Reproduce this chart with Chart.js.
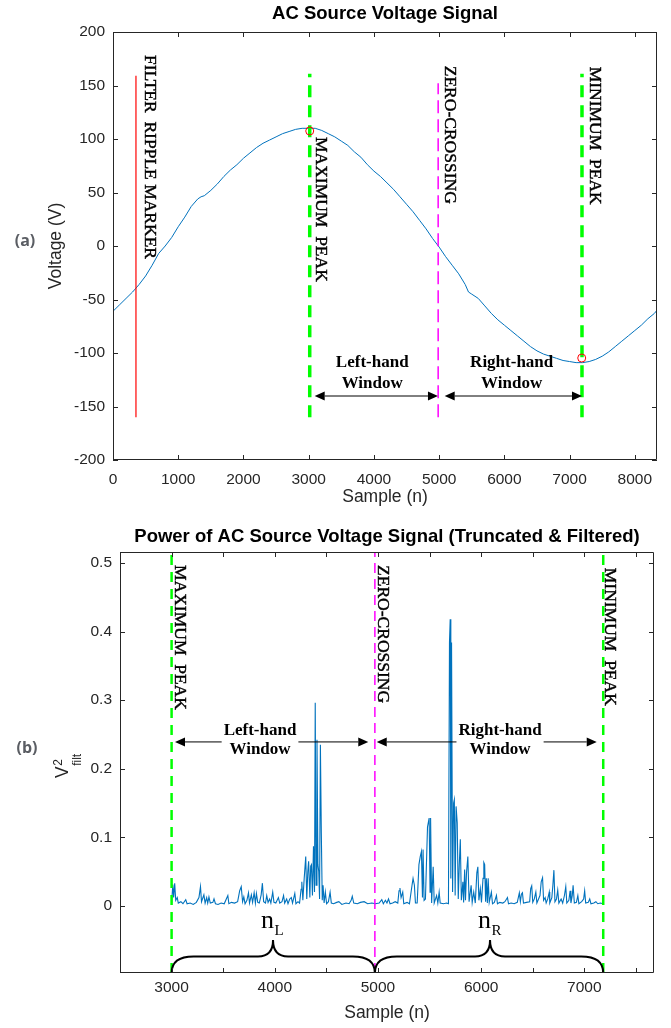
<!DOCTYPE html>
<html>
<head>
<meta charset="utf-8">
<script src="https://cdn.jsdelivr.net/npm/chart.js@4.4.1/dist/chart.umd.min.js"></script>
<style>
  html, body { margin: 0; padding: 0; background: #fff; }
  #voltageChart { position: absolute; left: 0; top: 0; }
  #powerChart { position: absolute; left: 0; top: 515px; }
</style>
</head>
<body>
<canvas id="voltageChart" width="671" height="515"></canvas>
<canvas id="powerChart" width="671" height="513"></canvas>
<script>
// ---- (a) AC source voltage ----
const voltageSample = [
  0, 100, 200, 300, 400, 500, 600, 700, 800, 900, 1000, 1100, 1200, 1300, 1350, 1400,
  1500, 1600, 1700, 1800, 1900, 2000, 2100, 2200, 2300, 2400, 2500, 2600, 2700, 2800,
  2900, 3000, 3100, 3200, 3300, 3400, 3500, 3600, 3700, 3800, 3900, 4000, 4100, 4200,
  4300, 4400, 4500, 4600, 4700, 4800, 4900, 5000, 5100, 5200, 5300, 5400, 5450, 5500,
  5600, 5700, 5800, 5900, 6000, 6100, 6200, 6300, 6400, 6500, 6600, 6700, 6800, 6900,
  7000, 7100, 7200, 7300, 7400, 7500, 7600, 7700, 7800, 7900, 8000, 8100, 8200, 8300, 8340,
];
const voltageValue = [
  -61, -55, -49, -43, -36, -28, -18, -7, 0, 8, 18, 27, 37, 44, 46, 47,
  52, 58, 65, 71, 76, 82, 87, 92, 96, 99, 102, 105, 107, 109,
  110, 110, 110, 108, 105, 102, 98, 94, 88, 83, 76, 70, 65, 59,
  53, 46, 39, 32, 24, 16, 7, -1, -10, -18, -26, -36, -43, -45,
  -49, -56, -63, -69, -74, -79, -84, -89, -94, -98, -101, -103, -105, -107,
  -108, -109, -109, -108, -106, -103, -99, -94, -89, -84, -79, -74, -68, -63, -60,
];
const voltageXTicks = [0, 1000, 2000, 3000, 4000, 5000, 6000, 7000, 8000];
const voltageYTicks = [-200, -150, -100, -50, 0, 50, 100, 150, 200];
const voltageMarkerSample = [352, 3016, 4985, 7190];
const voltageMarkerLow = [-160, -160, -160, -160];
const voltageMarkerHigh = [159, 161, 152, 161];
const voltagePeakSample = [3016, 7186];
const voltagePeakValue = [107.5, -104.7];
const voltageMarkerLabels = ["FILTER  RIPPLE MARKER", "MAXIMUM  PEAK", "ZERO-CROSSING", "MINIMUM  PEAK"];

// ---- (b) power of the signal ----
const powerSample = [
  3000, 3012, 3020, 3030, 3040, 3055, 3065, 3090, 3110, 3137, 3150, 3180, 3210, 3240, 3265, 3280,
  3290, 3313, 3325, 3340, 3350, 3362, 3375, 3400, 3411, 3425, 3450, 3480, 3510, 3545, 3555, 3580,
  3610, 3640, 3660, 3675, 3688, 3700, 3712, 3730, 3745, 3755, 3773, 3785, 3800, 3812, 3822, 3835,
  3850, 3868, 3880, 3892, 3910, 3922, 3935, 3950, 3962, 3980, 3992, 4010, 4035, 4048, 4070, 4085,
  4096, 4115, 4128, 4145, 4160, 4172, 4194, 4205, 4225, 4240, 4255, 4262, 4272, 4285, 4300, 4310,
  4320, 4328, 4340, 4348, 4355, 4365, 4375, 4385, 4392, 4400, 4409, 4418, 4426, 4434, 4442, 4451,
  4460, 4468, 4478, 4490, 4502, 4520, 4536, 4548, 4570, 4600, 4621, 4650, 4690, 4720, 4740, 4751,
  4765, 4800, 4830, 4866, 4900, 4940, 4975, 5012, 5037, 5052, 5072, 5087, 5102, 5117, 5142, 5167,
  5192, 5204, 5213, 5224, 5240, 5250, 5282, 5305, 5330, 5340, 5353, 5363, 5380, 5397, 5410, 5421,
  5431, 5437, 5447, 5460, 5480, 5490, 5496, 5505, 5510, 5520, 5535, 5545, 5568, 5580, 5593, 5603,
  5635, 5665, 5683, 5693, 5700, 5706, 5713, 5723, 5733, 5740, 5748, 5757, 5768, 5778, 5788, 5798,
  5808, 5823, 5830, 5840, 5848, 5858, 5871, 5883, 5903, 5913, 5928, 5943, 5958, 5968, 5978, 5992,
  6003, 6018, 6026, 6034, 6043, 6050, 6060, 6068, 6078, 6099, 6110, 6128, 6148, 6158, 6180, 6210,
  6230, 6255, 6265, 6290, 6320, 6350, 6370, 6380, 6390, 6400, 6410, 6440, 6470, 6480, 6490, 6500,
  6515, 6530, 6540, 6570, 6582, 6595, 6605, 6620, 6630, 6645, 6660, 6665, 6685, 6695, 6705, 6715,
  6730, 6742, 6753, 6775, 6790, 6807, 6820, 6830, 6850, 6862, 6870, 6883, 6891, 6903, 6923, 6937,
  6947, 6974, 6993, 7003, 7013, 7038, 7052, 7064, 7092, 7112, 7130, 7155, 7180,
];
const powerValue = [
  0.004, 0.031, 0.012, 0.033, 0.008, 0.012, 0.004, 0.006, 0.003, 0.009, 0.003, 0.004, 0.002, 0.005, 0.012, 0.028,
  0.006, 0.016, 0.004, 0.012, 0.004, 0.013, 0.004, 0.005, 0.010, 0.003, 0.002, 0.004, 0.003, 0.015, 0.003, 0.005,
  0.004, 0.006, 0.022, 0.028, 0.006, 0.013, 0.003, 0.008, 0.019, 0.004, 0.016, 0.005, 0.019, 0.004, 0.018, 0.005,
  0.004, 0.016, 0.033, 0.006, 0.004, 0.015, 0.005, 0.010, 0.004, 0.020, 0.005, 0.004, 0.012, 0.004, 0.006, 0.015,
  0.004, 0.010, 0.003, 0.010, 0.012, 0.004, 0.018, 0.003, 0.006, 0.004, 0.024, 0.035, 0.008, 0.040, 0.072, 0.010,
  0.050, 0.065, 0.012, 0.058, 0.060, 0.015, 0.087, 0.020, 0.296, 0.030, 0.242, 0.060, 0.050, 0.010, 0.235, 0.106,
  0.008, 0.030, 0.004, 0.020, 0.003, 0.006, 0.020, 0.004, 0.003, 0.005, 0.006, 0.002, 0.004, 0.003, 0.008, 0.014,
  0.004, 0.003, 0.005, 0.006, 0.003, 0.004, 0.003, 0.004, 0.009, 0.003, 0.008, 0.004, 0.010, 0.003, 0.004, 0.006,
  0.004, 0.022, 0.026, 0.012, 0.020, 0.003, 0.005, 0.003, 0.030, 0.040, 0.030, 0.004, 0.004, 0.060, 0.072, 0.079,
  0.012, 0.082, 0.008, 0.010, 0.115, 0.123, 0.128, 0.020, 0.128, 0.004, 0.057, 0.004, 0.015, 0.004, 0.020, 0.004,
  0.003, 0.004, 0.003, 0.384, 0.418, 0.040, 0.384, 0.020, 0.150, 0.155, 0.015, 0.145, 0.121, 0.010, 0.060, 0.097,
  0.008, 0.035, 0.005, 0.053, 0.008, 0.048, 0.072, 0.006, 0.030, 0.005, 0.020, 0.004, 0.048, 0.057, 0.008, 0.025,
  0.005, 0.040, 0.063, 0.060, 0.006, 0.040, 0.004, 0.040, 0.005, 0.020, 0.003, 0.005, 0.015, 0.003, 0.005, 0.004,
  0.006, 0.012, 0.003, 0.004, 0.003, 0.005, 0.019, 0.006, 0.017, 0.019, 0.004, 0.005, 0.006, 0.025, 0.029, 0.005,
  0.010, 0.020, 0.004, 0.015, 0.035, 0.041, 0.008, 0.012, 0.004, 0.010, 0.020, 0.004, 0.012, 0.030, 0.052, 0.006,
  0.010, 0.023, 0.004, 0.010, 0.004, 0.015, 0.028, 0.004, 0.008, 0.022, 0.004, 0.015, 0.030, 0.004, 0.005, 0.015,
  0.003, 0.006, 0.010, 0.022, 0.004, 0.005, 0.010, 0.003, 0.004, 0.006, 0.003, 0.004, 0.003,
];
const powerXTicks = [2500, 3000, 3500, 4000, 4500, 5000, 5500, 6000, 6500, 7000, 7500];
const powerYTicks = [0, 0.1, 0.2, 0.3, 0.4, 0.5];
const powerMarkerSample = [3000, 4970, 7183];
const powerMarkerLabels = ["MAXIMUM  PEAK", "ZERO-CROSSING", "MINIMUM  PEAK"];
const windowLabels = [["Left-hand", "Window"], ["Right-hand", "Window"]];
const braceLabels = ["L", "R"];

const sans = "'Liberation Sans', Arial, sans-serif";
const serif = "'Liberation Serif', 'Times New Roman', serif";
const axisGray = "#262626";
const signalBlue = "#0072BD";

function drawAxesBox(chart, tickLength) {
  const { ctx, chartArea: a, scales } = chart;
  ctx.save();
  ctx.strokeStyle = axisGray;
  ctx.lineWidth = 1;
  ctx.beginPath();
  ctx.rect(a.left + 0.5, a.top + 0.5, a.right - a.left - 1, a.bottom - a.top - 1);
  scales.x.ticks.forEach((t) => {
    const px = Math.round(scales.x.getPixelForValue(t.value)) + 0.5;
    ctx.moveTo(px, a.bottom);
    ctx.lineTo(px, a.bottom - tickLength);
    ctx.moveTo(px, a.top);
    ctx.lineTo(px, a.top + tickLength);
  });
  scales.y.ticks.forEach((t) => {
    const py = Math.round(scales.y.getPixelForValue(t.value)) + 0.5;
    ctx.moveTo(a.left, py);
    ctx.lineTo(a.left + tickLength, py);
    ctx.moveTo(a.right, py);
    ctx.lineTo(a.right - tickLength, py);
  });
  ctx.stroke();
  ctx.restore();
}

function drawRotatedLabel(ctx, text, x, y) {
  ctx.save();
  ctx.translate(x, y);
  ctx.rotate(Math.PI / 2);
  ctx.textAlign = "left";
  ctx.textBaseline = "alphabetic";
  ctx.lineWidth = 0.45;
  ctx.strokeStyle = "#000";
  ctx.fillText(text, 0, 0);
  ctx.strokeText(text, 0, 0);
  ctx.restore();
}

function drawArrow(ctx, x1, x2, y) {
  const head = 10;
  const half = 4.5;
  ctx.beginPath();
  ctx.moveTo(x1 + head, y);
  ctx.lineTo(x2 - head, y);
  ctx.stroke();
  ctx.beginPath();
  ctx.moveTo(x1, y);
  ctx.lineTo(x1 + head, y - half);
  ctx.lineTo(x1 + head, y + half);
  ctx.closePath();
  ctx.moveTo(x2, y);
  ctx.lineTo(x2 - head, y - half);
  ctx.lineTo(x2 - head, y + half);
  ctx.closePath();
  ctx.fill();
}

function drawWindowText(ctx, lines, x, y1, y2, blankBehind) {
  ctx.font = `bold 17px ${serif}`;
  ctx.textAlign = "center";
  ctx.textBaseline = "middle";
  if (blankBehind) {
    const w = Math.max(...lines.map((l) => ctx.measureText(l).width)) + 4;
    ctx.fillStyle = "#fff";
    ctx.fillRect(x - w / 2, y1 - 10, w, y2 - y1 + 20);
  }
  ctx.fillStyle = "#000";
  ctx.fillText(lines[0], x, y1);
  ctx.fillText(lines[1], x, y2);
}

function drawBrace(ctx, x0, x1, xm, yBase, yBand, yTip) {
  const rEnd = 22;
  const rTip = 15;
  ctx.beginPath();
  ctx.moveTo(x0, yBase);
  ctx.quadraticCurveTo(x0, yBand, x0 + rEnd, yBand);
  ctx.lineTo(xm - rTip, yBand);
  ctx.quadraticCurveTo(xm, yBand, xm, yTip);
  ctx.quadraticCurveTo(xm, yBand, xm + rTip, yBand);
  ctx.lineTo(x1 - rEnd, yBand);
  ctx.quadraticCurveTo(x1, yBand, x1, yBase);
  ctx.stroke();
}

function panelLetter(ctx, text, x, y) {
  ctx.save();
  ctx.font = `bold 16px 'Open Sans', ${sans}`;
  ctx.fillStyle = "#5a5d63";
  ctx.textAlign = "center";
  ctx.textBaseline = "middle";
  ctx.fillText(text, x, y);
  ctx.restore();
}

function markerDatasets(samples, lows, highs, styles) {
  return samples.map((s, i) => ({
    data: [{ x: s, y: lows[i] }, { x: s, y: highs[i] }],
    borderColor: styles[i].color,
    borderWidth: styles[i].width,
    borderDash: styles[i].dash,
    pointRadius: 0,
    order: 1,
  }));
}

function axisOptions(cfg) {
  return {
    animation: false,
    responsive: false,
    devicePixelRatio: 1,
    events: [],
    layout: { padding: { left: 0, right: cfg.rightPad, top: 0, bottom: 0 } },
    plugins: {
      legend: { display: false },
      tooltip: { enabled: false },
      title: {
        display: true,
        text: cfg.title,
        fullSize: false,
        color: "#000",
        font: { family: sans, size: 18.5, weight: "bold" },
        padding: cfg.titlePad,
      },
    },
    scales: {
      x: {
        type: "linear",
        min: cfg.xMin,
        max: cfg.xMax,
        grid: { display: false, drawTicks: false },
        border: { display: false },
        afterBuildTicks: (scale) => { scale.ticks = cfg.xTicks.map((v) => ({ value: v })); },
        afterFit: (scale) => { scale.height = cfg.xHeight; },
        ticks: {
          autoSkip: false,
          maxRotation: 0,
          padding: cfg.xTickPad,
          color: axisGray,
          font: { family: sans, size: 15.5 },
          callback: cfg.xLabel,
        },
        title: {
          display: true,
          text: "Sample (n)",
          color: axisGray,
          font: { family: sans, size: 17.5 },
          padding: { top: 0, bottom: cfg.xTitlePad },
        },
      },
      y: {
        min: cfg.yMin,
        max: cfg.yMax,
        grid: { display: false, drawTicks: false },
        border: { display: false },
        afterBuildTicks: (scale) => { scale.ticks = cfg.yTicks.map((v) => ({ value: v })); },
        afterFit: (scale) => { scale.width = cfg.yWidth; },
        ticks: {
          autoSkip: false,
          padding: 8,
          color: axisGray,
          font: { family: sans, size: 15.5 },
          callback: (value) => String(value),
        },
        title: {
          display: !!cfg.yTitle,
          text: cfg.yTitle || "",
          color: axisGray,
          font: { family: sans, size: 17.5 },
          padding: { top: 46, bottom: 0 },
        },
      },
    },
  };
}

const voltageAnnotations = {
  id: "voltageAnnotations",
  afterDatasetsDraw(chart) {
    const { ctx, scales: { x, y } } = chart;
    const labelSpots = [[497, 178.5], [3118, 101.9], [5085, 168.5], [7308, 167.6]];
    ctx.save();
    ctx.fillStyle = "#000";
    ctx.strokeStyle = "#000";
    ctx.lineWidth = 1;
    ctx.font = `17.5px ${serif}`;
    voltageMarkerLabels.forEach((text, i) => {
      drawRotatedLabel(ctx, text, x.getPixelForValue(labelSpots[i][0]), y.getPixelForValue(labelSpots[i][1]));
    });
    const ay = y.getPixelForValue(-140.2);
    drawArrow(ctx, x.getPixelForValue(3092), x.getPixelForValue(4982), ay);
    drawArrow(ctx, x.getPixelForValue(5085), x.getPixelForValue(7190), ay);
    drawWindowText(ctx, windowLabels[0], x.getPixelForValue(3974), y.getPixelForValue(-109.4), y.getPixelForValue(-128.5), false);
    drawWindowText(ctx, windowLabels[1], x.getPixelForValue(6112), y.getPixelForValue(-109.4), y.getPixelForValue(-128.5), false);
    ctx.restore();
  },
  afterDraw(chart) {
    drawAxesBox(chart, 5);
    panelLetter(chart.ctx, "(a)", 25, 241);
  },
};

const powerAnnotations = {
  id: "powerAnnotations",
  afterDatasetsDraw(chart) {
    const { ctx, scales: { x, y } } = chart;
    const labelSpots = [[3033, 0.497], [5003, 0.497], [7200, 0.493]];
    ctx.save();
    ctx.fillStyle = "#000";
    ctx.strokeStyle = "#000";
    ctx.lineWidth = 1;
    ctx.font = `17.5px ${serif}`;
    powerMarkerLabels.forEach((text, i) => {
      drawRotatedLabel(ctx, text, x.getPixelForValue(labelSpots[i][0]), y.getPixelForValue(labelSpots[i][1]));
    });
    const ay = y.getPixelForValue(0.239);
    ctx.fillStyle = "#000";
    ctx.lineWidth = 1;
    drawArrow(ctx, x.getPixelForValue(3033), x.getPixelForValue(4906), ay);
    drawArrow(ctx, x.getPixelForValue(4988), x.getPixelForValue(7120), ay);
    drawWindowText(ctx, windowLabels[0], x.getPixelForValue(3857), y.getPixelForValue(0.256), y.getPixelForValue(0.228), true);
    drawWindowText(ctx, windowLabels[1], x.getPixelForValue(6183), y.getPixelForValue(0.256), y.getPixelForValue(0.228), true);

    // braces spanning each window
    ctx.lineWidth = 2;
    ctx.strokeStyle = "#000";
    const yBase = y.getPixelForValue(-0.098);
    const yBand = y.getPixelForValue(-0.074);
    const yTip = y.getPixelForValue(-0.05);
    const spans = [[powerMarkerSample[0], powerMarkerSample[1], 3983], [powerMarkerSample[1], powerMarkerSample[2], 6086]];
    spans.forEach(([s0, s1, sm], i) => {
      const xm = x.getPixelForValue(sm);
      drawBrace(ctx, x.getPixelForValue(s0), x.getPixelForValue(s1), xm, yBase, yBand, yTip);
      const yb = y.getPixelForValue(-0.032);
      ctx.fillStyle = "#000";
      ctx.textAlign = "left";
      ctx.textBaseline = "alphabetic";
      ctx.font = `26px ${serif}`;
      const nx = xm - 12;
      ctx.fillText("n", nx, yb);
      const w = ctx.measureText("n").width;
      ctx.font = `15px ${serif}`;
      ctx.fillText(braceLabels[i], nx + w + 0.5, yb + 7);
    });

    // y-axis label with super/subscript
    ctx.save();
    ctx.translate(68, 263);
    ctx.rotate(-Math.PI / 2);
    ctx.fillStyle = axisGray;
    ctx.textAlign = "left";
    ctx.textBaseline = "alphabetic";
    ctx.font = `17.5px ${sans}`;
    ctx.fillText("V", 0, 0);
    const vw = ctx.measureText("V").width;
    ctx.font = `12px ${sans}`;
    ctx.fillText("2", vw + 0.5, -6);
    ctx.fillText("filt", vw + 0.5, 13);
    ctx.restore();
    ctx.restore();
  },
  afterDraw(chart) {
    drawAxesBox(chart, 5);
    panelLetter(chart.ctx, "(b)", 27, 233);
  },
};

function createVoltageChart() {
  const canvas = document.getElementById("voltageChart");
  const markerStyles = [
    { color: "#FF0000", width: 1.2, dash: [] },
    { color: "#00FF00", width: 3.5, dash: [12, 8] },
    { color: "#FF00FF", width: 1.5, dash: [13, 6] },
    { color: "#00FF00", width: 3.5, dash: [12, 8] },
  ];
  const options = axisOptions({
    title: "AC Source Voltage Signal",
    titlePad: { top: 3, bottom: 6.8 },
    rightPad: 14,
    xMin: 0, xMax: 8340, yMin: -200, yMax: 200,
    xTicks: voltageXTicks, yTicks: voltageYTicks,
    xHeight: 55, xTickPad: 10, xTitlePad: 7.5, yWidth: 113,
    xLabel: (value) => String(value),
    yTitle: "Voltage (V)",
  });
  new Chart(canvas, {
    type: "line",
    data: {
      datasets: [
        {
          type: "scatter",
          data: voltagePeakSample.map((s, i) => ({ x: s, y: voltagePeakValue[i] })),
          pointRadius: 4,
          pointBorderWidth: 1,
          pointBorderColor: "#FF0000",
          pointBackgroundColor: "rgba(0,0,0,0)",
          showLine: false,
          order: 0,
        },
        ...markerDatasets(voltageMarkerSample, voltageMarkerLow, voltageMarkerHigh, markerStyles),
        {
          data: voltageSample.map((s, i) => ({ x: s, y: voltageValue[i] })),
          borderColor: signalBlue,
          borderWidth: 1,
          pointRadius: 0,
          order: 2,
        },
      ],
    },
    options,
    plugins: [voltageAnnotations],
  });
}

function createPowerChart() {
  const canvas = document.getElementById("powerChart");
  const markerStyles = [
    { color: "#00FF00", width: 2.5, dash: [10, 7] },
    { color: "#FF00FF", width: 1.5, dash: [10, 6] },
    { color: "#00FF00", width: 2.5, dash: [10, 7] },
  ];
  const options = axisOptions({
    title: "Power of AC Source Voltage Signal (Truncated & Filtered)",
    titlePad: { top: 11, bottom: 3.8 },
    rightPad: 17,
    xMin: 2500, xMax: 7675, yMin: -0.098, yMax: 0.516,
    xTicks: powerXTicks, yTicks: powerYTicks,
    xHeight: 55, xTickPad: 5, xTitlePad: 4.5, yWidth: 120,
    xLabel: (value) => (value % 1000 === 0 ? String(value) : ""),
    yTitle: null,
  });
  new Chart(canvas, {
    type: "line",
    data: {
      datasets: [
        ...markerDatasets(
          powerMarkerSample,
          powerMarkerSample.map(() => -0.098),
          powerMarkerSample.map(() => 0.516),
          markerStyles,
        ),
        {
          data: powerSample.map((s, i) => ({ x: s, y: powerValue[i] })),
          borderColor: signalBlue,
          borderWidth: 1.1,
          pointRadius: 0,
          order: 2,
        },
      ],
    },
    options,
    plugins: [powerAnnotations],
  });
}

window.addEventListener("DOMContentLoaded", () => {
  createVoltageChart();
  createPowerChart();
});
</script>
</body>
</html>
